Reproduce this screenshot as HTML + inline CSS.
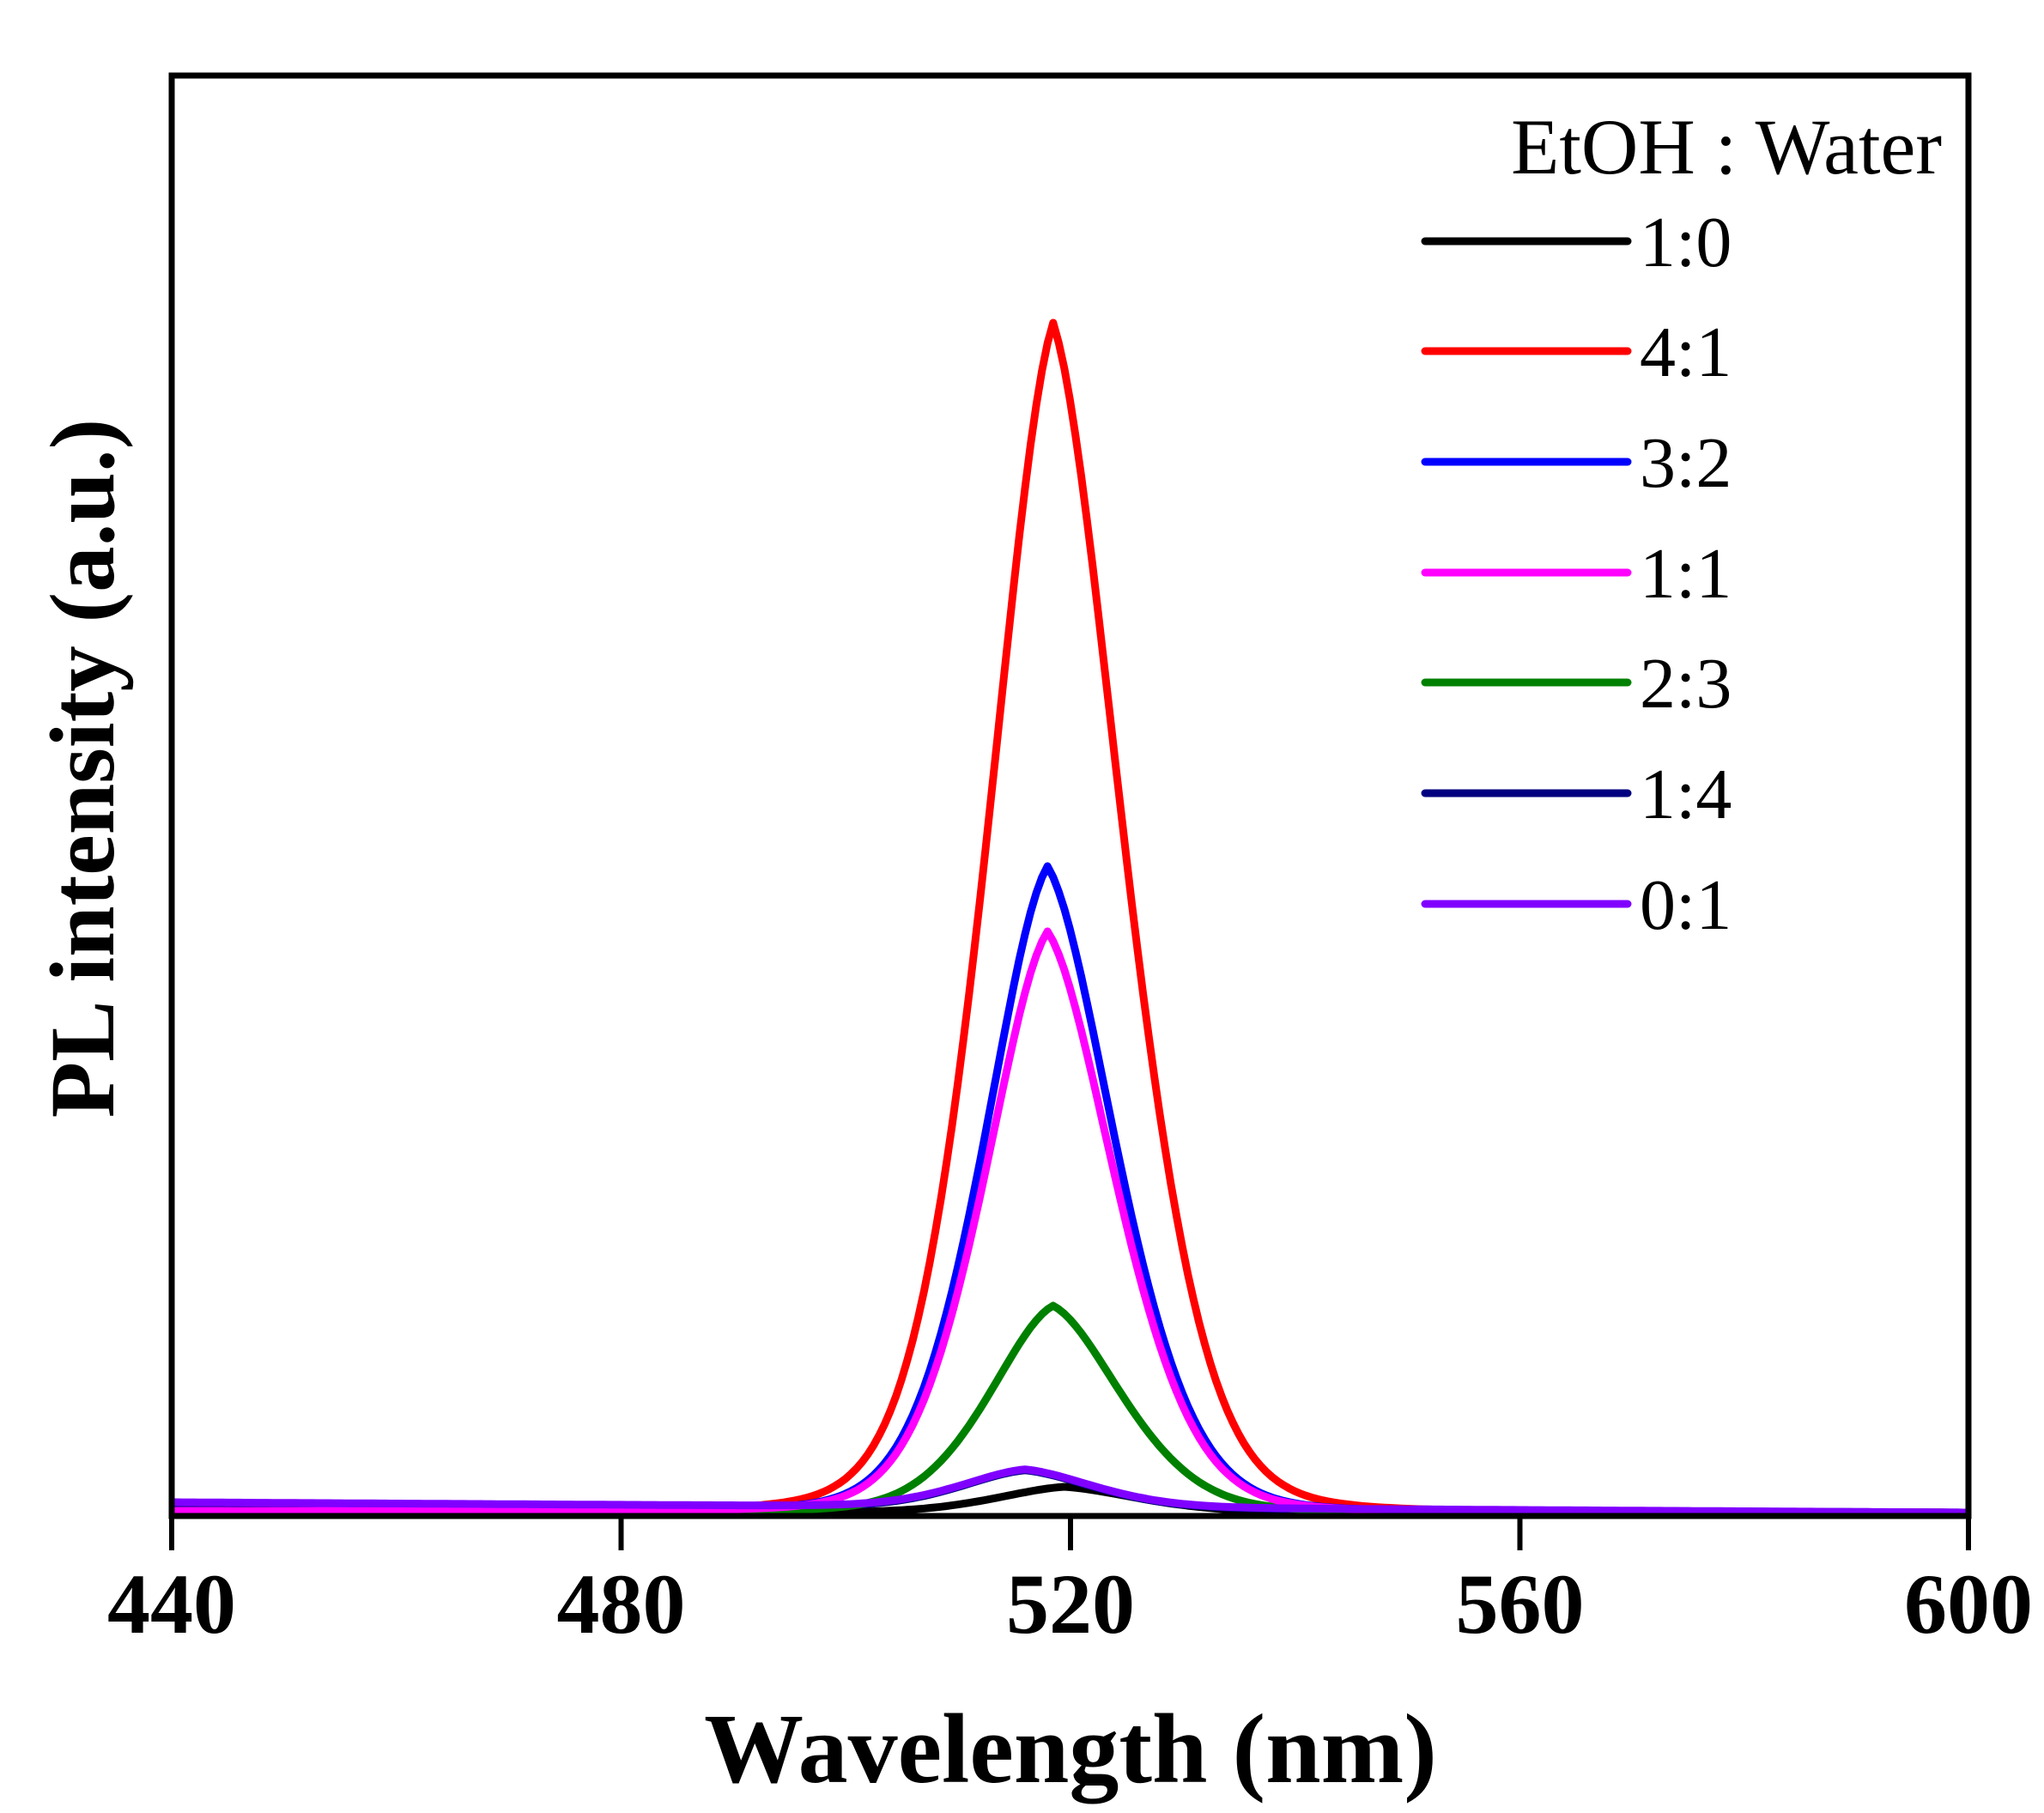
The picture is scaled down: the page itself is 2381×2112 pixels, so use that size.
<!DOCTYPE html>
<html><head><meta charset="utf-8"><style>
html,body{margin:0;padding:0;background:#fff;}
svg{display:block;}
text{font-family:"Liberation Serif",serif;fill:#000;}
</style></head><body>
<svg id="s" width="2381" height="2112" viewBox="0 0 2381 2112" xmlns="http://www.w3.org/2000/svg">
<g id="curves" fill="none" stroke-width="9" stroke-linejoin="round"></g>
<rect x="200" y="88" width="2093" height="1678" fill="none" stroke="#000" stroke-width="7"/>
<g stroke="#000" stroke-width="6">
<line x1="200" y1="1766" x2="200" y2="1806"/>
<line x1="723.5" y1="1766" x2="723.5" y2="1806"/>
<line x1="1247" y1="1766" x2="1247" y2="1806"/>
<line x1="1770.5" y1="1766" x2="1770.5" y2="1806"/>
<line x1="2293" y1="1766" x2="2293" y2="1806"/>
</g>
<g font-size="100" font-weight="bold" text-anchor="middle">
<text x="200" y="1902">440</text>
<text x="723.5" y="1902">480</text>
<text x="1247" y="1902">520</text>
<text x="1770.5" y="1902">560</text>
<text x="2293" y="1902">600</text>
</g>
<text x="1247" y="2076" font-size="116" font-weight="bold" text-anchor="middle">Wavelength (nm)</text>
<text transform="translate(132,895) rotate(-90)" font-size="107" font-weight="bold" text-anchor="middle">PL intensity (a.u.)</text>
<text x="2262" y="202" font-size="92" text-anchor="end">EtOH : Water</text>
<g stroke-width="9" stroke-linecap="round">
<line x1="1660" y1="281" x2="1896" y2="281" stroke="#000"/>
<line x1="1660" y1="409" x2="1896" y2="409" stroke="#ff0000"/>
<line x1="1660" y1="538" x2="1896" y2="538" stroke="#0000ff"/>
<line x1="1660" y1="667" x2="1896" y2="667" stroke="#ff00ff"/>
<line x1="1660" y1="795" x2="1896" y2="795" stroke="#008000"/>
<line x1="1660" y1="924" x2="1896" y2="924" stroke="#000080"/>
<line x1="1660" y1="1053" x2="1896" y2="1053" stroke="#8000ff"/>
</g>
<g font-size="84">
<text x="1910" y="310">1:0</text>
<text x="1910" y="438">4:1</text>
<text x="1910" y="567">3:2</text>
<text x="1910" y="696">1:1</text>
<text x="1910" y="824">2:3</text>
<text x="1910" y="953">1:4</text>
<text x="1910" y="1082">0:1</text>
</g>
</svg>
<script>
(function(){
var X=function(w){return 200+(w-440)*13.08;};
var series=[
 ["#000000",519.5,30,16,1762,1762],
 ["#000080",516,44,15,1752,1762],
 ["#008000",518.5,240,15,1760,1762],
 ["#ff0000",518.5,1385,15.5,1760,1762],
 ["#0000ff",518,752,15,1760,1762],
 ["#ff00ff",518,676,15,1760,1762],
 ["#8000ff",516,44,15,1750,1762]
];
var g=document.getElementById('curves');
series.forEach(function(s){
 var pts=[];
 for(var w=440;w<=600;w+=0.5){
  var f=s[3]; var d=w-s[1];
  if(d>0) f*=1.08;
  var gs=Math.exp(-4*Math.log(2)*d*d/(f*f));
  var lz=1/(1+4*d*d/(f*f));
  var v=0.6*gs+0.4*lz*Math.exp(-Math.abs(d)/14);
  var base=s[4]+(s[5]-s[4])*(w-440)/160;
  var y=base-s[2]*v;
  pts.push(X(w).toFixed(1)+","+y.toFixed(1));
 }
 var p=document.createElementNS("http://www.w3.org/2000/svg","polyline");
 p.setAttribute("points",pts.join(" "));
 p.setAttribute("stroke",s[0]);
 g.appendChild(p);
});
})();
</script>
</body></html>
